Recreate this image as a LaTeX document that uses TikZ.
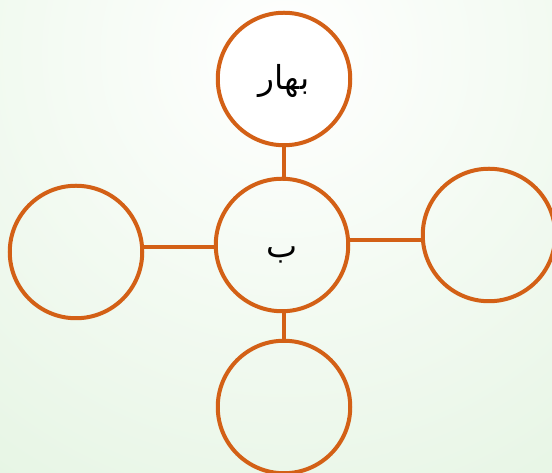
\documentclass[tikz,border=0pt]{standalone}
\usepackage{fontspec}
\newfontfamily\arabicfont[Script=Arabic]{DejaVu Sans}
\TeXXeTstate=1
\definecolor{ringorange}{RGB}{211,96,22}
\definecolor{bggreen}{RGB}{220,241,217}
\begin{document}
\begin{tikzpicture}[x=1pt,y=1pt,
  ring/.style={circle,draw=ringorange,line width=4pt,minimum size=132.5pt,inner sep=0pt},
  link/.style={draw=ringorange,line width=4pt},
  lbl/.style={font=\arabicfont\fontsize{33}{38}\selectfont}]
\useasboundingbox (0,0) rectangle (552,473);
\begin{scope}
\clip (0,0) rectangle (552,473);
\shade[inner color=white,outer color=bggreen] (285,420) circle (740);
\end{scope}
\node[ring,fill=white] (top) at (284,394) {};
\node[lbl] (toplbl) at (284,392) {\beginR بهار\endR};
\node[ring] (mid) at (282,228) {};
\node[lbl] (midlbl) at (282,218) {\beginR ب\endR};
\node[ring] (left) at (76,221) {};
\node[ring] (right) at (489,238) {};
\node[ring] (bot) at (284,66) {};
\coordinate (lA) at (141,226);
\coordinate (rA) at (423,233);
\draw[link] (top.south) -- (top.south |- mid.north);
\draw[link] (bot.north) -- (bot.north |- mid.south);
\draw[link] (lA) -- (lA -| mid.west);
\draw[link] (rA) -- (rA -| mid.east);
\end{tikzpicture}
\end{document}
